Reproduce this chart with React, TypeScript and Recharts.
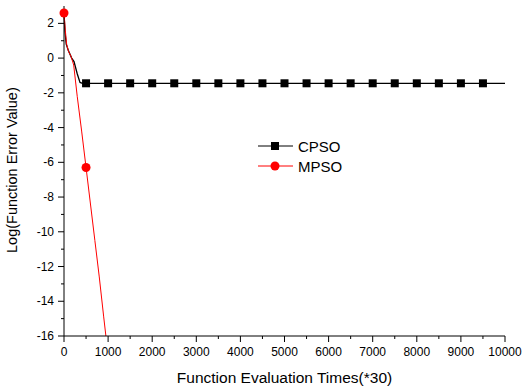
import { Line, LineChart, XAxis, YAxis } from "recharts"

const cpsoX = [0, 20, 50, 97, 174, 227, 300, 363, 420, 500, 1000, 1500, 2000, 2500, 3000, 3500, 4000, 4500, 5000, 5500, 6000, 6500, 7000, 7500, 8000, 8500, 9000, 9500, 10000]
const cpsoY = [2.6, 1.6, 0.8, 0.45, 0.0, -0.2, -0.9, -1.4, -1.45, -1.45, -1.45, -1.45, -1.45, -1.45, -1.45, -1.45, -1.45, -1.45, -1.45, -1.45, -1.45, -1.45, -1.45, -1.45, -1.45, -1.45, -1.45, -1.45, -1.45]
const cpsoMarks = [500, 1000, 1500, 2000, 2500, 3000, 3500, 4000, 4500, 5000, 5500, 6000, 6500, 7000, 7500, 8000, 8500, 9000, 9500]

const mpsoX = [0, 30, 60, 100, 160, 220, 300, 400, 500, 600, 700, 800, 900, 950]
const mpsoY = [2.6, 1.6, 0.8, 0.4, 0.1, -0.4, -2.2, -4.2, -6.3, -8.4, -10.5, -12.6, -14.9, -16]
const mpsoMarks = [0, 500]

const xTicks = [0, 500, 1000, 1500, 2000, 2500, 3000, 3500, 4000, 4500, 5000, 5500, 6000, 6500, 7000, 7500, 8000, 8500, 9000, 9500, 10000]
const yTicks = [-16, -15, -14, -13, -12, -11, -10, -9, -8, -7, -6, -5, -4, -3, -2, -1, 0, 1, 2]

const seriesNames = ["CPSO", "MPSO"]
const seriesColors = ["#000000", "#ff0000"]

const cpsoData = cpsoX.map((x, i) => ({ x, y: cpsoY[i] }))
const mpsoData = mpsoX.map((x, i) => ({ x, y: mpsoY[i] }))

const font = "'Liberation Sans', Arial, sans-serif"

const XTick = ({ x, y, payload }: any) => {
  const major = payload.value % 1000 === 0
  return (
    <g>
      <line x1={x} x2={x} y1={y} y2={y + (major ? 6 : 3)} stroke="#000" />
      {major && (
        <text x={x} y={y + 20} textAnchor="middle" fontSize={12} fill="#000" fontFamily={font}>
          {payload.value}
        </text>
      )}
    </g>
  )
}

const YTick = ({ x, y, payload }: any) => {
  const major = payload.value % 2 === 0
  return (
    <g>
      <line x1={x} x2={x - (major ? 6 : 3)} y1={y} y2={y} stroke="#000" />
      {major && (
        <text x={x - 10} y={y + 4} textAnchor="end" fontSize={12} fill="#000" fontFamily={font}>
          {payload.value}
        </text>
      )}
    </g>
  )
}

const squareDot = (props: any) => {
  const { cx, cy, payload, index } = props
  if (!cpsoMarks.includes(payload.x)) return <g key={`s${index}`} />
  return <rect key={`s${index}`} x={cx - 4} y={cy - 4} width={8} height={8} fill="#000" />
}

const circleDot = (props: any) => {
  const { cx, cy, payload, index } = props
  if (!mpsoMarks.includes(payload.x)) return <g key={`c${index}`} />
  return <circle key={`c${index}`} cx={cx} cy={cy} r={4.5} fill="#ff0000" />
}

export default function App() {
  return (
    <div style={{ position: "relative", width: 522, height: 389, background: "#fff", fontFamily: font }}>
      <style>{`body{margin:0}`}</style>
      <LineChart width={522} height={389} margin={{ top: 6, right: 17, left: 20, bottom: 0 }}>
        <XAxis
          type="number"
          dataKey="x"
          domain={[0, 10000]}
          ticks={xTicks}
          interval={0}
          tick={<XTick />}
          tickLine={false}
          tickSize={0}
          tickMargin={0}
          height={53}
          stroke="#000"
          label={{ value: "Function Evaluation Times(*30)", position: "insideBottom", offset: 6, fontSize: 15.5, fill: "#000", fontFamily: font }}
        />
        <YAxis
          type="number"
          dataKey="y"
          domain={[-16, 3]}
          ticks={yTicks}
          interval={0}
          tick={<YTick />}
          tickLine={false}
          tickSize={0}
          tickMargin={0}
          width={44}
          stroke="#000"
          allowDataOverflow
          label={{ value: "Log(Function Error Value)", angle: -90, position: "insideLeft", offset: -8, dy: 82, fontSize: 14.5, fill: "#000", fontFamily: font }}
        />
        <Line data={cpsoData} dataKey="y" name="CPSO" stroke="#000" strokeWidth={1.3} dot={squareDot} isAnimationActive={false} />
        <Line data={mpsoData} dataKey="y" name="MPSO" stroke="#ff0000" strokeWidth={1} dot={circleDot} isAnimationActive={false} />
      </LineChart>
      <div style={{ position: "absolute", left: 256, top: 136 }}>
        {seriesNames.map((name, i) => (
          <div key={name} style={{ display: "flex", alignItems: "center", height: 20 }}>
            <svg width={38} height={12}>
              <line x1={2} x2={37} y1={6} y2={6} stroke={seriesColors[i]} />
              {i === 0 ? <rect x={15} y={2} width={8} height={8} fill="#000" /> : <circle cx={19} cy={6} r={4.5} fill="#ff0000" />}
            </svg>
            <span style={{ fontSize: 15, marginLeft: 4, color: "#000" }}>{name}</span>
          </div>
        ))}
      </div>
    </div>
  )
}
